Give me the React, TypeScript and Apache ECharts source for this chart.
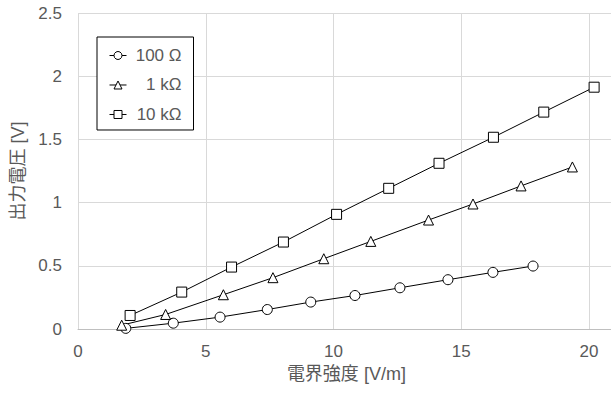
import React, { useEffect, useRef } from "react";
import * as echarts from "echarts";

const seriesNames = ["100 Ω", "1 kΩ", "10 kΩ"];

const x100: number[] = [1.87, 3.73, 5.56, 7.41, 9.11, 10.84, 12.6, 14.48, 16.24, 17.81];
const y100: number[] = [0.005, 0.046, 0.094, 0.154, 0.213, 0.265, 0.326, 0.39, 0.448, 0.498];

const x1k: number[] = [1.71, 3.43, 5.69, 7.63, 9.62, 11.46, 13.72, 15.46, 17.34, 19.35];
const y1k: number[] = [0.03, 0.115, 0.271, 0.406, 0.556, 0.693, 0.862, 0.989, 1.132, 1.282];

const x10k: number[] = [2.04, 4.06, 6.01, 8.04, 10.12, 12.16, 14.13, 16.26, 18.23, 20.2];
const y10k: number[] = [0.107, 0.292, 0.49, 0.688, 0.907, 1.113, 1.311, 1.517, 1.716, 1.913];

const xTitle = "電界強度 [V/m]";
const yTitle = "出力電圧 [V]";

const FONT = "'Liberation Sans', Arial, 'Noto Sans CJK JP', sans-serif";
const TXT = "#595959";

function pairs(xs: number[], ys: number[]) {
  return xs.map((x, i) => [x, ys[i]]);
}

export default function App() {
  const ref = useRef<HTMLDivElement>(null);
  useEffect(() => {
    if (!ref.current) return;
    const chart = echarts.init(ref.current, undefined, { renderer: "svg" });
    const symbols = ["circle", "triangle", "rect"];
    const sizes = [10, 10, 10];
    const data = [pairs(x100, y100), pairs(x1k, y1k), pairs(x10k, y10k)];
    chart.setOption({
      animation: false,
      textStyle: { fontFamily: FONT },
      grid: { left: 78, top: 13, width: 638.75, height: 316, outerBoundsMode: "none" },
      legend: {
        orient: "vertical",
        left: 97,
        top: 37,
        padding: [10, 12, 7, 12],
        itemGap: 12.5,
        itemWidth: 17,
        itemHeight: 10,
        borderColor: "#000",
        borderWidth: 1,
        backgroundColor: "#fff",
        data: seriesNames,
        itemStyle: { borderWidth: 1, color: "#fff", borderColor: "#000" },
        lineStyle: { width: 1, color: "#000" },
        formatter: (name: string) => `{a|${name}}`,
        textStyle: {
          color: TXT,
          fontSize: 17,
          fontFamily: FONT,
          rich: { a: { width: 50, align: "right", fontSize: 17, color: TXT, fontFamily: FONT } },
        },
      },
      xAxis: {
        type: "value",
        min: 0,
        max: 25,
        interval: 5,
        name: xTitle,
        nameLocation: "middle",
        nameGap: 35,
        nameTextStyle: { color: TXT, fontSize: 18, fontFamily: FONT, padding: [0, 102, 0, 0] },
        axisLine: { show: true, lineStyle: { color: "#bfbfbf", width: 1 } },
        axisTick: { show: false },
        axisLabel: { color: TXT, fontSize: 17, margin: 14, fontFamily: FONT, showMaxLabel: false },
        splitLine: { show: true, lineStyle: { color: "#d9d9d9", width: 1 } },
      },
      yAxis: {
        type: "value",
        min: 0,
        max: 2.5,
        interval: 0.5,
        name: yTitle,
        nameLocation: "middle",
        nameGap: 51,
        nameTextStyle: { color: TXT, fontSize: 18, fontFamily: FONT },
        axisLine: { show: false },
        axisTick: { show: false },
        axisLabel: { color: TXT, fontSize: 17, margin: 16, fontFamily: FONT },
        splitLine: { show: true, lineStyle: { color: "#d9d9d9", width: 1 } },
      },
      series: seriesNames.map((n, i) => ({
        name: n,
        type: "line",
        data: data[i],
        symbol: symbols[i],
        symbolSize: sizes[i],
        showAllSymbol: true,
        lineStyle: { color: "#000", width: 1 },
        itemStyle: { color: "#fff", borderColor: "#000", borderWidth: 1 },
        emphasis: { disabled: true },
        clip: false,
      })),
    });
    return () => chart.dispose();
  }, []);
  return (
    <div
      ref={ref}
      style={{ position: "absolute", left: 0, top: 0, width: 611, height: 394, overflow: "hidden" }}
    />
  );
}
